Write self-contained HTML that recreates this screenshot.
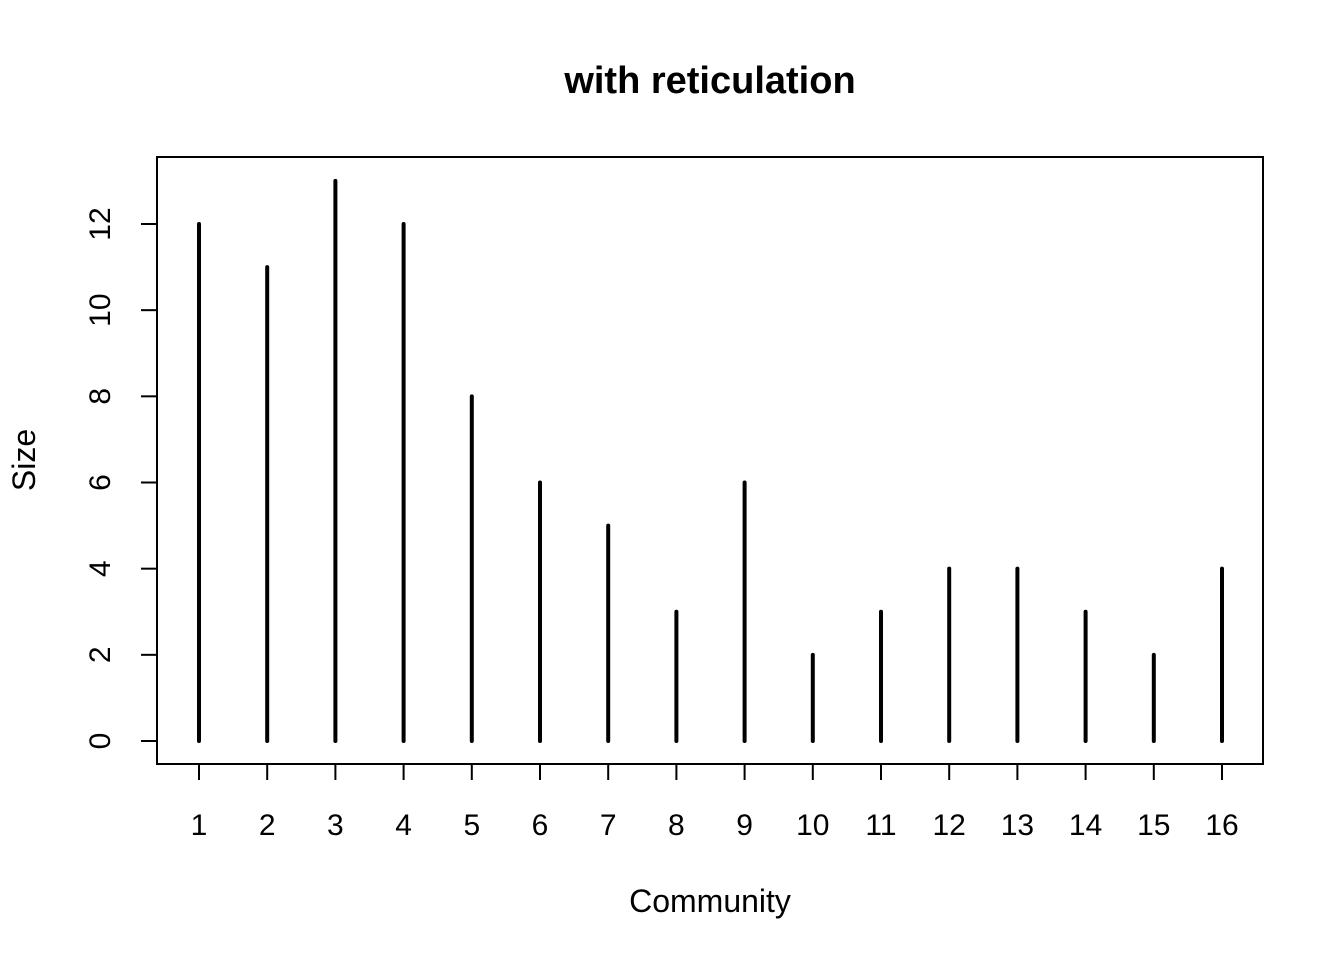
<!DOCTYPE html>
<html><head><meta charset="utf-8"><style>
html,body{margin:0;padding:0;background:#fff;}
svg{display:block;font-family:"Liberation Sans",Arial,sans-serif;}
</style></head><body>
<svg id="chart" width="1344" height="960">
<text x="710" y="93" text-anchor="middle" font-size="38" font-weight="bold">with reticulation</text>
<rect x="157" y="157" width="1106" height="607" fill="none" stroke="#000" stroke-width="2"/>
<text x="710" y="912" text-anchor="middle" font-size="32">Community</text>
<text transform="translate(35,460) rotate(-90)" text-anchor="middle" font-size="32">Size</text>
<g id="marks"></g>
</svg>
<script>
const categories=[1,2,3,4,5,6,7,8,9,10,11,12,13,14,15,16];
const sizes=[12,11,13,12,8,6,5,3,6,2,3,4,4,3,2,4];
const yTicks=[0,2,4,6,8,10,12];
const NS="http://www.w3.org/2000/svg";
const g=document.getElementById('marks');
function xs(v){return 199+(v-1)*(1222-199)/15;}
function ys(v){return 741-v*(741-224)/12;}
function mk(t,a){const e=document.createElementNS(NS,t);for(const k in a)e.setAttribute(k,a[k]);g.appendChild(e);return e;}
yTicks.forEach(v=>{
  const l=mk('line',{x1:141,x2:157,y1:ys(v),y2:ys(v),stroke:'#000','stroke-width':2});
  
  
  const t=mk('text',{transform:`translate(110,${ys(v)}) rotate(-90)`,'text-anchor':'middle','font-size':30});
  t.textContent=v;
  
  
});
const ya=mk('line',{x1:157,x2:157,y1:ys(0),y2:ys(12),stroke:'#000','stroke-width':2});
categories.forEach((c,i)=>{
  const l=mk('line',{x1:xs(c),x2:xs(c),y1:764,y2:780,stroke:'#000','stroke-width':2});
  
  
  const t=mk('text',{x:xs(c),y:835,'text-anchor':'middle','font-size':30});
  t.textContent=c;
  
  
  const b=mk('line',{x1:xs(c),x2:xs(c),y1:ys(0),y2:ys(sizes[i]),stroke:'#000','stroke-width':4,'stroke-linecap':'round'});
  
  
});
</script>
</body></html>
